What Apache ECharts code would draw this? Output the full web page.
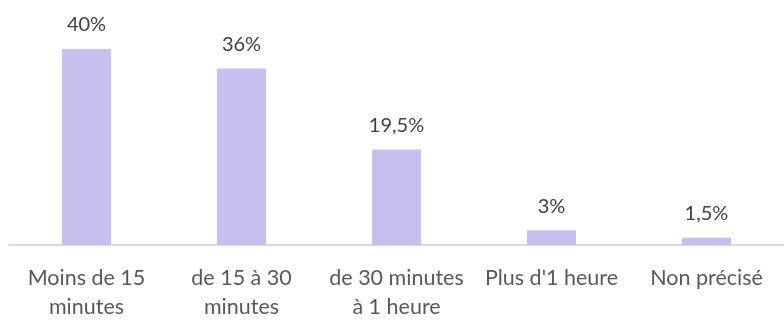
<!DOCTYPE html>
<html><head><meta charset="utf-8">
<script src="https://cdn.jsdelivr.net/npm/echarts@6/dist/echarts.min.js"></script>
<style>html,body{margin:0;padding:0;background:#fff}#c{width:784px;height:322px}</style>
</head><body><div id="c"></div>
<script>
const categories = ["Moins de 15\nminutes", "de 15 à 30\nminutes", "de 30 minutes\nà 1 heure", "Plus d'1 heure", "Non précisé"];
const values = [40, 36, 19.5, 3, 1.5];
const valueLabels = ["40%", "36%", "19,5%", "3%", "1,5%"];

const chart = echarts.init(document.getElementById('c'));
chart.setOption({
  animation: false,
  grid: {left: 9, top: 0, width: 778, bottom: 70, containLabel: false},
  xAxis: {
    type: 'category', data: categories,
    axisLine: {lineStyle: {color: '#d9d9d9', width: 2}},
    axisTick: {show: false},
    axisLabel: {color: '#595959', fontFamily: 'Lato', fontSize: 21.5, lineHeight: 29, margin: 19, interval: 0}
  },
  yAxis: {type: 'value', min: 0, max: 50, show: false, splitLine: {show: false}},
  series: [{
    type: 'bar', data: values, barWidth: 49,
    itemStyle: {color: '#c8bfee'},
    label: {
      show: true, position: 'top', distance: 14,
      color: '#404040', fontFamily: 'Lato', fontSize: 20,
      formatter: p => valueLabels[p.dataIndex]
    }
  }]
});
</script></body></html>
